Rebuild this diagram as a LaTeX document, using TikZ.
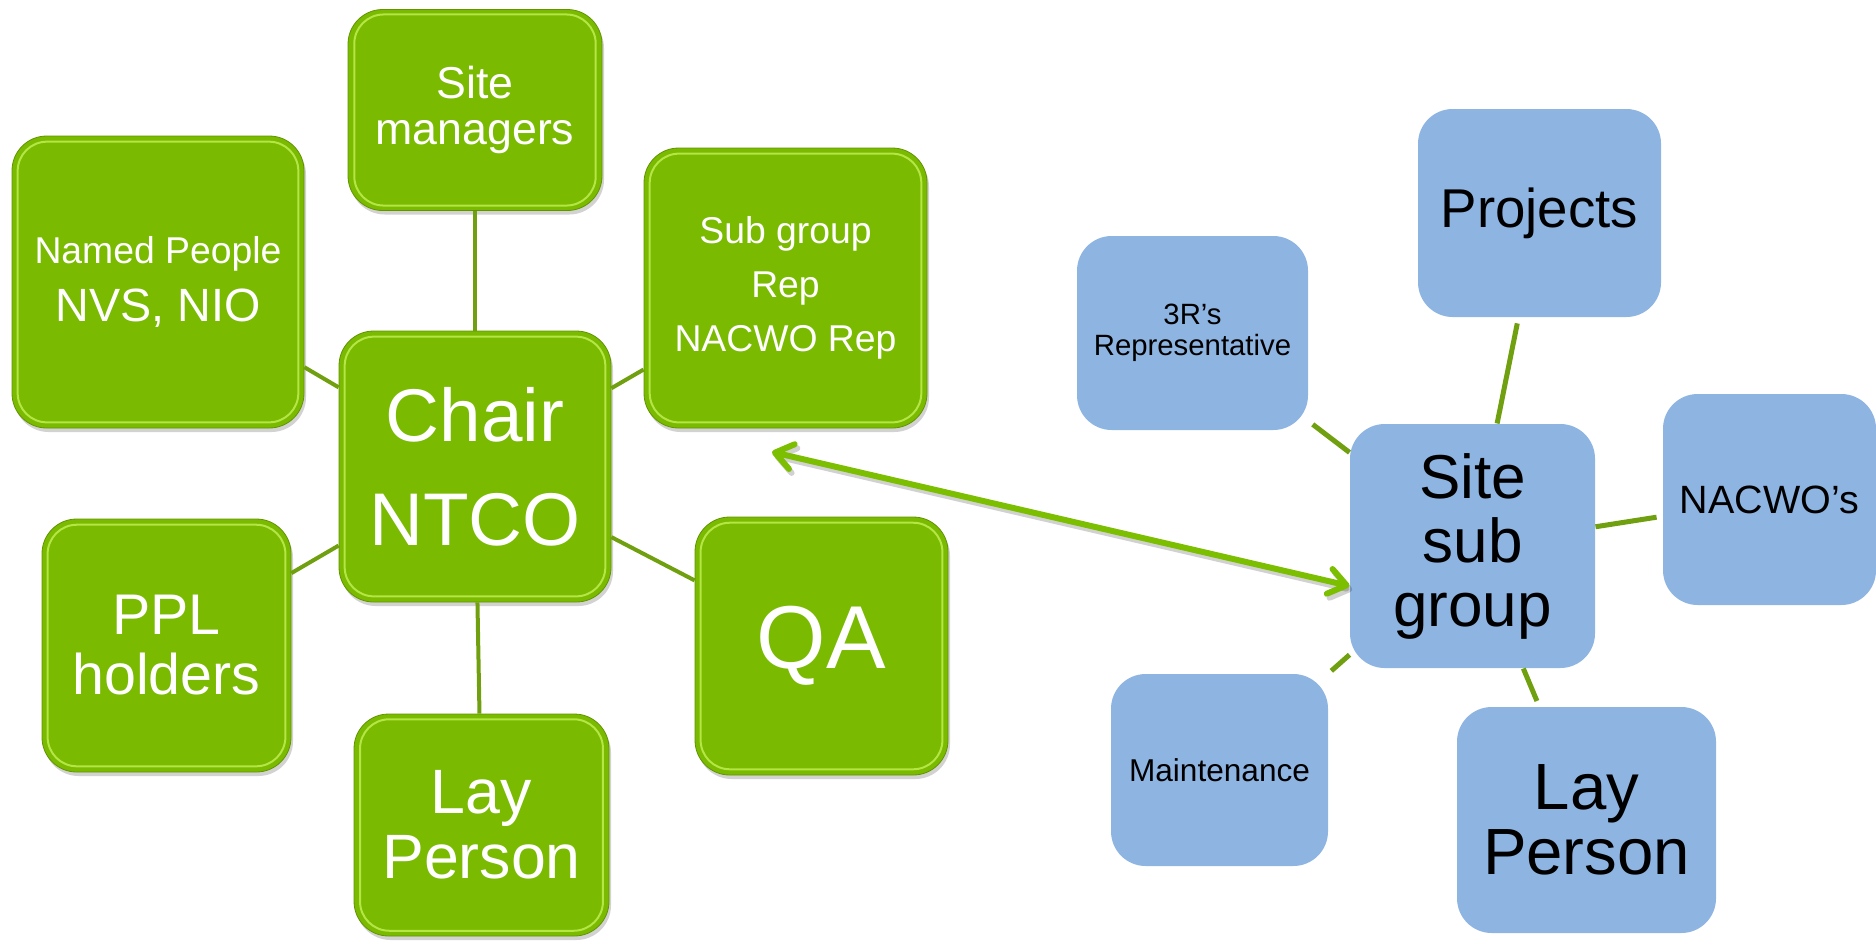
\documentclass[tikz,border=0pt]{standalone}
\usepackage{fontspec}
\setmainfont{Liberation Sans}
\usetikzlibrary{arrows.meta,shadows,calc}

\definecolor{leafgreen}{RGB}{122,186,0}
\definecolor{leafedge}{RGB}{98,148,0}
\definecolor{leaflight}{RGB}{180,230,70}
\definecolor{linkgreen}{RGB}{112,160,16}
\definecolor{arrowgreen}{RGB}{124,190,0}
\definecolor{skyblue}{RGB}{142,180,226}

\tikzset{every picture/.style={line width=0.75pt}}
\tikzset{
  greenbox/.style={draw=leafedge, line width=0.6pt, fill=leafgreen, rounded corners=26pt,
    text=white, align=center, inner sep=0pt,
    drop shadow={shadow xshift=1.5pt, shadow yshift=-3pt, opacity=0.25, fill=black!70},
    path picture={\draw[leaflight, line width=1.5pt, rounded corners=22pt]
      ($(path picture bounding box.north west)!6pt!(path picture bounding box.south east)$) rectangle
      ($(path picture bounding box.south east)!6pt!(path picture bounding box.north west)$);}},
  bluebox/.style={fill=skyblue, rounded corners=26pt, text=black, align=center, inner sep=0pt},
  leftlink/.style={draw=linkgreen, line width=3pt},
  rightlink/.style={draw=linkgreen, line width=3.75pt},
  linkarrow/.style={draw=arrowgreen, line width=4.5pt, line cap=round,
    arrows={Straight Barb[length=13pt,width=19pt,line join=round,line cap=round]-Straight Barb[length=13pt,width=19pt,line join=round,line cap=round]}},
}

\begin{document}
\begin{tikzpicture}[x=0.75pt,y=0.75pt,yscale=-1,xscale=1]
\useasboundingbox (0,0) rectangle (1876,940);

%Shape: Rounded Rect, green side
\node[greenbox, minimum width=190.5pt, minimum height=150.75pt, font=\fontsize{33.5}{34}\selectfont] (sitemgr) at (475,110) {Site\\managers};
\node[greenbox, minimum width=219pt, minimum height=219pt, font=\fontsize{35}{44}\selectfont] (named) at (158,282) {{\fontsize{28}{34}\selectfont Named People}\\NVS, NIO};
\node[greenbox, minimum width=212.25pt, minimum height=210pt, font=\fontsize{28}{40.5}\selectfont] (subgroup) at (785.5,288) {Sub group\\Rep\\NACWO Rep};
\node[greenbox, minimum width=204pt, minimum height=203.25pt, font=\fontsize{56}{78}\selectfont] (chair) at (475,466.5) {Chair\\NTCO};
\node[greenbox, minimum width=186.75pt, minimum height=189.75pt, font=\fontsize{43}{45}\selectfont] (ppl) at (166.5,645.5) {PPL\\holders};
\node[greenbox, minimum width=189.75pt, minimum height=193.5pt, font=\fontsize{67}{70}\selectfont] (qa) at (821.5,646) {QA};
\node[greenbox, minimum width=191.25pt, minimum height=166.5pt, font=\fontsize{47}{49}\selectfont] (laygreen) at (481.5,825) {Lay\\Person};

%Shape: Rounded Rect, blue side
\node[bluebox, minimum width=173.25pt, minimum height=145.5pt, font=\fontsize{22}{23}\selectfont] (threer) at (1192.5,333) {3R’s\\Representative};
\node[bluebox, minimum width=182.25pt, minimum height=156pt, font=\fontsize{41}{44}\selectfont] (projects) at (1539.5,213) {Projects};
\node[bluebox, minimum width=183.75pt, minimum height=183pt, font=\fontsize{46.5}{48}\selectfont] (sitesub) at (1472.5,546) {Site\\sub\\group};
\node[bluebox, minimum width=159.75pt, minimum height=158.25pt, font=\fontsize{29.6}{32}\selectfont] (nacwo) at (1769.5,499.5) {NACWO’s};
\node[bluebox, minimum width=162.75pt, minimum height=144pt, font=\fontsize{23.7}{26}\selectfont] (maint) at (1219.5,770) {Maintenance};
\node[bluebox, minimum width=194.25pt, minimum height=169.5pt, font=\fontsize{49}{49}\selectfont] (layblue) at (1586.5,820) {Lay\\Person};

%Straight Lines
\draw[leftlink] (sitemgr) -- (chair);
\draw[leftlink] (named) -- (chair);
\draw[leftlink] (subgroup) -- (chair);
\draw[leftlink] (ppl) -- (chair);
\draw[leftlink] (qa) -- (chair);
\draw[leftlink] (laygreen) -- (chair);

\draw[rightlink, shorten <=4pt] (threer) -- (sitesub);
\draw[rightlink, shorten <=4.5pt] (projects) -- (sitesub);
\draw[rightlink, shorten <=4.5pt] (nacwo) -- (sitesub);
\draw[rightlink, shorten <=3pt] (maint) -- (sitesub);
\draw[rightlink, shorten <=4.5pt] (layblue) -- (sitesub);

%Double arrow between the groups
\coordinate (ntcotip) at (772,452);
\draw[linkarrow, draw=black, opacity=0.18, transform canvas={xshift=2pt,yshift=-3pt}] (ntcotip) -- (sitesub.198);
\draw[linkarrow] (ntcotip) -- (sitesub.198);

\end{tikzpicture}
\end{document}
